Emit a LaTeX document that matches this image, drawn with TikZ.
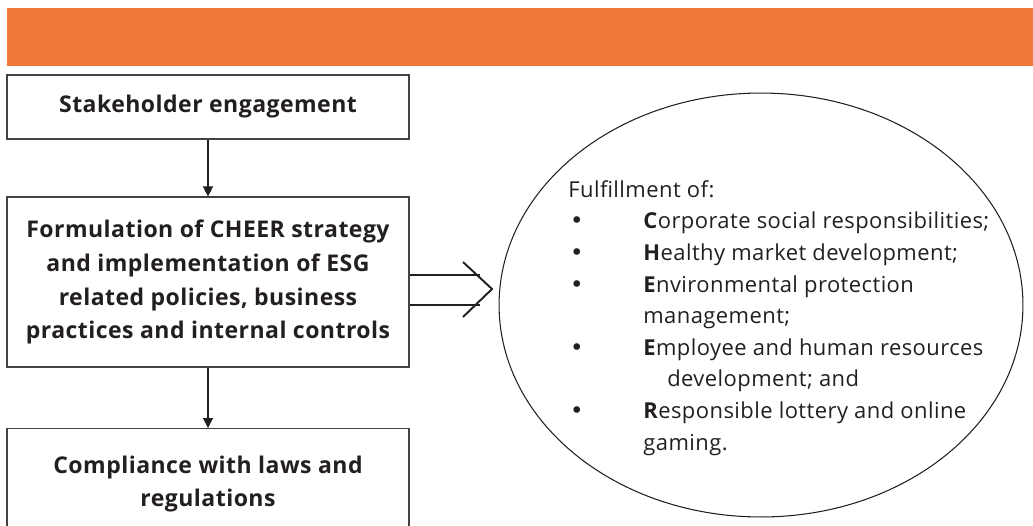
\documentclass[tikz,border=0pt]{standalone}
\usepackage{fontspec}
\setmainfont{Open Sans}
\newfontfamily\dejavu{DejaVu Sans}
\usepackage{tikz}
\usetikzlibrary{arrows.meta,positioning,shapes.geometric}
\definecolor{band}{RGB}{239,122,60}
\definecolor{ink}{RGB}{35,31,32}
\newcommand{\itm}{\makebox[42.7pt][l]{\hspace{1pt}{\dejavu\fontsize{13}{13}\selectfont •}}}
\tikzset{
  box/.style  ={draw=ink!85,line width=0.7pt,minimum width=8.04cm,inner sep=0pt},
  btxt/.style ={align=center,text=ink,
                font=\addfontfeatures{LetterSpace=2}\bfseries\fontsize{13.1}{19.3}\selectfont},
  down/.style ={-{Triangle[length=2mm,width=2mm]},line width=0.6pt,ink},
  dbl/.style  ={line width=1.1pt,ink},
}

\begin{document}
\begin{tikzpicture}[x=0.02cm,y=-0.02cm]
  \useasboundingbox (0,0) rectangle (1033,525);
  \clip (0,0) rectangle (1033,525);
  \fill[band] (7,8) rectangle (1040,66);
  % left column of boxes
  \node[box,btxt,minimum height=1.28cm] (stake) at (208,107) {Stakeholder engagement};
  \node[box,btxt,minimum height=3.4cm] (form) at (208,282)
    {Formulation of CHEER strategy\\and implementation of ESG\\related policies, business\\practices and internal controls};
  \node[box,minimum height=2.2cm,anchor=north] (comp) at (208,428) {};
  \node[btxt] (comptxt) at (208,484) {Compliance with laws and\\regulations};
  \draw[down] (stake) -- (form);
  \draw[down] (form) -- (comp);
  % goals
  \node[ellipse,draw=ink,line width=0.6pt,minimum width=10.48cm,minimum height=8.48cm,inner sep=0pt] (goal) at (761,305) {};
  \node[anchor=north west,inner sep=0pt,align=left,text=ink,
        font=\addfontfeatures{LetterSpace=2}\fontsize{12.5}{18}\selectfont] (list) at (568,180)
    {Fulfillment of:\\
     \itm\textbf{C}orporate social responsibilities;\\
     \itm\textbf{H}ealthy market development;\\
     \itm\textbf{E}nvironmental protection\\
     \hspace*{42.7pt}management;\\
     \itm\textbf{E}mployee and human resources\\
     \hspace*{56.3pt}development; and\\
     \itm\textbf{R}esponsible lottery and online\\
     \hspace*{42.7pt}gaming.};
  % double arrow into the ellipse
  \coordinate (tip) at (492,289);
  \draw[dbl] ([yshift=0.14cm]form.east) -- ++(70,0);
  \draw[dbl] ([yshift=-0.46cm]form.east) -- ++(70,0);
  \draw[dbl] (463,262) -- (tip) -- (463,317);
\end{tikzpicture}
\end{document}
